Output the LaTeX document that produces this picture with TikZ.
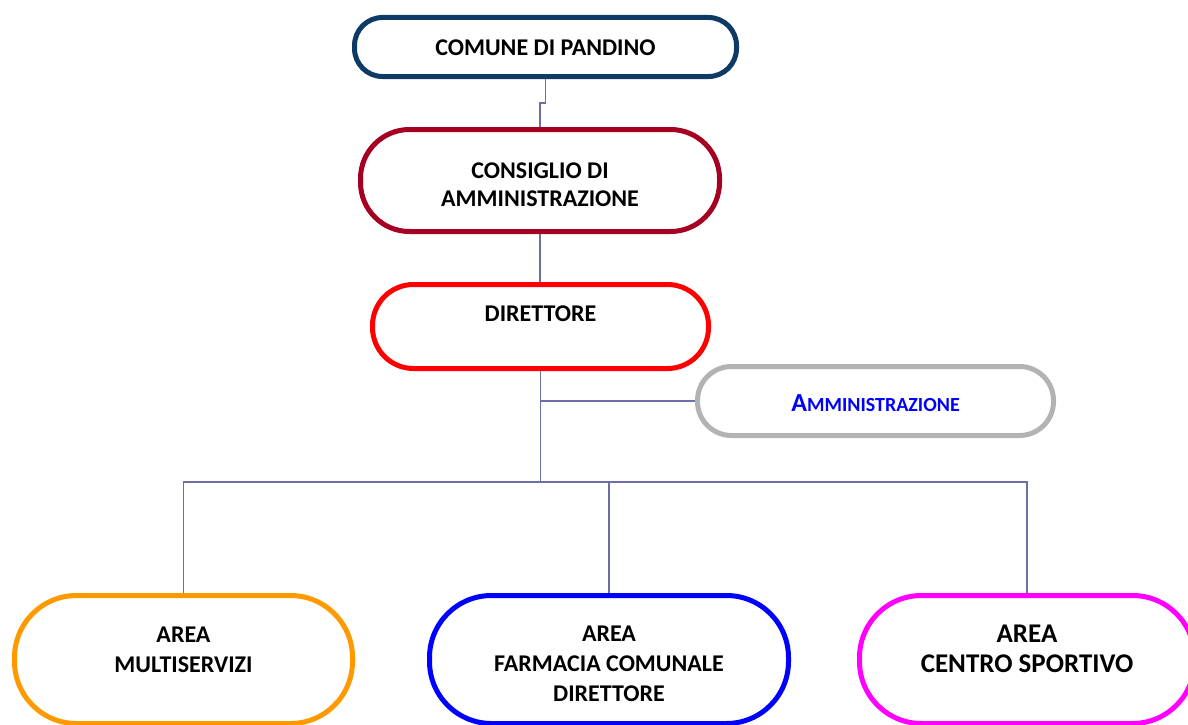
\documentclass[tikz,border=0pt]{standalone}
\usepackage{fontspec}
\setmainfont{Carlito}
\definecolor{cnavy}{HTML}{0E3A66}
\definecolor{ccrimson}{HTML}{A50021}
\definecolor{cred}{HTML}{FF0000}
\definecolor{cgray}{HTML}{B3B3B3}
\definecolor{corange}{HTML}{FF9900}
\definecolor{cblue}{HTML}{0000FF}
\definecolor{cmagenta}{HTML}{FF00FF}
\definecolor{cline}{HTML}{6E6EA6}
\begin{document}
\begin{tikzpicture}[x=1pt,y=-1pt,
  pill/.style={draw,line width=5pt,fill=white,rectangle,inner sep=0pt},
  lbl/.style={font=\bfseries\fontsize{24}{28}\selectfont,align=center,inner sep=0pt},
  conn/.style={draw=cline,line width=1.6pt}]
\useasboundingbox (0,0) rectangle (1188,725);
% boxes
\node[pill,draw=cnavy,minimum width=382pt,minimum height=59pt,rounded corners=28pt] (comune) at (545.5,47) {};
\node[pill,draw=ccrimson,minimum width=359pt,minimum height=102pt,rounded corners=49pt] (consiglio) at (540,180.5) {};
\node[pill,draw=cred,minimum width=336pt,minimum height=84pt,rounded corners=41pt] (direttore) at (540.5,326.5) {};
\node[pill,draw=cgray,minimum width=356pt,minimum height=69pt,rounded corners=34pt] (ammin) at (875.5,401) {};
\node[pill,draw=corange,minimum width=338pt,minimum height=128pt,rounded corners=62pt] (multi) at (183.5,659.5) {};
\node[pill,draw=cblue,minimum width=359pt,minimum height=128pt,rounded corners=62pt] (farm) at (609,659.5) {};
\node[pill,draw=cmagenta,minimum width=335pt,minimum height=128pt,rounded corners=62pt] (sport) at (1027,659.5) {};
% texts
\node[lbl] (comune-t) at ([yshift=-1pt]comune.center) {COMUNE DI PANDINO};
\node[lbl] (consiglio-t) at ([yshift=-4.5pt]consiglio.center) {CONSIGLIO DI\\AMMINISTRAZIONE};
\node[lbl] (direttore-t) at ([yshift=12.5pt]direttore.center) {DIRETTORE};
\node[lbl,text=cblue] (ammin-t) at ([yshift=-2pt]ammin.center) {{\fontsize{26}{28}\selectfont A}{\fontsize{20}{28}\selectfont MMINISTRAZIONE}};
\node[lbl,font=\bfseries\fontsize{24}{30}\selectfont] (multi-t) at ([yshift=10pt]multi.center) {AREA\\MULTISERVIZI};
\node[lbl,font=\bfseries\fontsize{24}{30}\selectfont] (farm-t) at ([yshift=-4.5pt]farm.center) {AREA\\FARMACIA COMUNALE\\DIRETTORE};
\node[lbl,font=\bfseries\fontsize{27}{30}\selectfont] (sport-t) at ([yshift=11pt]sport.center) {AREA\\CENTRO SPORTIVO};
% connectors
\coordinate (hub) at (direttore.south |- 0,482);
\draw[conn] (comune.south) -- ++(0,24) -| (consiglio.north);
\draw[conn] (consiglio.south) -- (consiglio.south |- direttore.north);
\draw[conn] (direttore.south) -- (hub);
\draw[conn] (direttore.south |- ammin.west) -- (ammin.west);
\draw[conn] (multi.north) |- (hub) -| (sport.north);
\draw[conn] (farm.north) -- (farm.north |- hub);
\end{tikzpicture}
\end{document}
